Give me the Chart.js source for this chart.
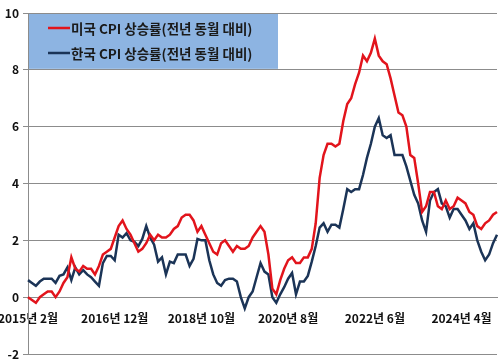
<!DOCTYPE html>
<html>
<head>
<meta charset="utf-8">
<script src="https://cdn.jsdelivr.net/npm/chart.js@4"></script>
<style>
  html, body { margin: 0; padding: 0; background: #fff; }
  #wrap { width: 500px; height: 361px; }
</style>
</head>
<body>
<div id="wrap"><canvas id="myChart"></canvas></div>
<script>
{
  /* Data */
  const startYear = 2015;
  const startMonth = 2;
  const monthCount = 120;
  const tickEvery = 22;

  const seriesNames = ['미국 CPI 상승률(전년 동월 대비)', '한국 CPI 상승률(전년 동월 대비)'];
  const seriesColors = ['#e2141c', '#1b3457'];

  // 2015.2 ~ 2025.1
  const usCpi = [
    0.0, -0.1, -0.2, 0.0, 0.1, 0.2, 0.2, 0.0, 0.2, 0.5, 0.7,
    1.4, 1.0, 0.9, 1.1, 1.0, 1.0, 0.8, 1.1, 1.5, 1.6, 1.7, 2.1,
    2.5, 2.7, 2.4, 2.2, 1.9, 1.6, 1.7, 1.9, 2.2, 2.0, 2.2, 2.1,
    2.1, 2.2, 2.4, 2.5, 2.8, 2.9, 2.9, 2.7, 2.3, 2.5, 2.2, 1.9,
    1.6, 1.5, 1.9, 2.0, 1.8, 1.6, 1.8, 1.7, 1.7, 1.8, 2.1, 2.3,
    2.5, 2.3, 1.5, 0.3, 0.1, 0.6, 1.0, 1.3, 1.4, 1.2, 1.2, 1.4,
    1.4, 1.7, 2.6, 4.2, 5.0, 5.4, 5.4, 5.3, 5.4, 6.2, 6.8, 7.0,
    7.5, 7.9, 8.5, 8.3, 8.6, 9.1, 8.5, 8.3, 8.2, 7.7, 7.1, 6.5,
    6.4, 6.0, 5.0, 4.9, 4.0, 3.0, 3.2, 3.7, 3.7, 3.2, 3.1, 3.4,
    3.1, 3.2, 3.5, 3.4, 3.3, 3.0, 2.9, 2.5, 2.4, 2.6, 2.7, 2.9,
    3.0
  ];
  const krCpi = [
    0.6, 0.5, 0.4, 0.55, 0.65, 0.65, 0.65, 0.5, 0.75, 0.8, 1.05,
    0.6, 1.05, 0.8, 0.95, 0.8, 0.7, 0.55, 0.4, 1.2, 1.45, 1.45, 1.3,
    2.2, 2.1, 2.25, 2.0, 1.95, 1.8, 2.05, 2.5, 2.1, 1.85, 1.25, 1.4,
    0.8, 1.25, 1.2, 1.5, 1.5, 1.5, 1.1, 1.35, 2.05, 2.0, 2.0, 1.3,
    0.8, 0.5, 0.4, 0.6, 0.65, 0.65, 0.55, 0.0, -0.4, 0.0, 0.2, 0.7,
    1.2, 0.9, 0.8, 0.0, -0.2, 0.1, 0.35, 0.65, 0.85, 0.1, 0.55, 0.55,
    0.75, 1.25, 1.8, 2.45, 2.6, 2.3, 2.55, 2.55, 2.45, 3.1, 3.8, 3.7,
    3.8, 3.8, 4.3, 4.9, 5.4, 6.0, 6.3, 5.7, 5.6, 5.7, 5.0, 5.0,
    5.0, 4.6, 4.1, 3.6, 3.3, 2.7, 2.3, 3.4, 3.7, 3.8, 3.3, 3.2,
    2.8, 3.1, 3.1, 2.9, 2.7, 2.4, 2.6, 2.0, 1.6, 1.3, 1.5, 1.9,
    2.2
  ];

  const yMin = -2;
  const yMax = 10;
  const yStep = 2;

  const months = [];
  for (let i = 0; i < monthCount; i++) {
    const m = startMonth - 1 + i;
    months.push((startYear + Math.floor(m / 12)) + '년 ' + (m % 12 + 1) + '월');
  }

  const gridGray = '#8c8c8c';
  const fontFamily = "'Noto Sans CJK KR', 'Noto Sans', sans-serif";

  /* Legend box inside the plot */
  const legendBox = {
    id: 'legendBox',
    beforeDatasetsDraw(chart) {
      const {ctx, chartArea, scales} = chart;
      const top = scales.y.getPixelForValue(yMax);
      const bottom = scales.y.getPixelForValue(yMax - yStep);
      const left = chartArea.left + 1;
      ctx.save();
      ctx.fillStyle = '#8db4e2';
      ctx.fillRect(left, top + 1, 249, bottom - top - 2);
      ctx.font = 'bold 13.5px ' + fontFamily;
      ctx.textBaseline = 'middle';
      chart.data.datasets.forEach((ds, i) => {
        const y = top + 16 + i * 25;
        ctx.strokeStyle = ds.borderColor;
        ctx.lineWidth = 2.5;
        ctx.beginPath();
        ctx.moveTo(left + 19, y - 1);
        ctx.lineTo(left + 41, y - 1);
        ctx.stroke();
        ctx.fillStyle = '#1a1a1a';
        ctx.fillText(ds.label, left + 42, y);
      });
      ctx.restore();
    }
  };

  /* Chart */
  const ctx = document.getElementById('myChart').getContext('2d');
  // eslint-disable-next-line no-undef
  const myChart = new Chart(ctx, {
    type: 'line',
    data: {
      labels: months,
      datasets: [
        {
          label: seriesNames[0],
          data: usCpi,
          borderColor: seriesColors[0],
          backgroundColor: seriesColors[0],
          borderWidth: 2.5,
          pointRadius: 0,
          tension: 0,
        },
        {
          label: seriesNames[1],
          data: krCpi,
          borderColor: seriesColors[1],
          backgroundColor: seriesColors[1],
          borderWidth: 2.5,
          pointRadius: 0,
          tension: 0,
        }
      ]
    },
    options: {
      responsive: true,
      maintainAspectRatio: false,
      animation: false,
      layout: { padding: { top: 13, bottom: 7, left: 0, right: 3 } },
      plugins: {
        legend: { display: false },
        tooltip: { enabled: false },
      },
      scales: {
        x: {
          position: { y: 0 },
          offset: false,
          grid: {
            drawOnChartArea: false,
            tickLength: 5,
            color: (c) => (c.index % tickEvery === 0 ? gridGray : 'rgba(0,0,0,0)'),
          },
          border: { color: gridGray, width: 1 },
          ticks: {
            autoSkip: false,
            maxRotation: 0,
            padding: 9,
            color: '#111',
            font: { family: fontFamily, size: 12, weight: 'bold' },
            callback: (v, i) => (i % tickEvery === 0 ? months[i] : null),
          },
          afterFit(s) {
            s.paddingLeft = 0;
            s.paddingRight = 0;
          },
        },
        y: {
          min: yMin,
          max: yMax,
          ticks: {
            stepSize: yStep,
            padding: 4,
            color: '#111',
            font: { family: fontFamily, size: 12, weight: 'bold' },
          },
          grid: { color: gridGray, lineWidth: 1, tickLength: 5 },
          border: { color: gridGray, width: 1 },
          afterFit(s) {
            s.width = 28;
            s.paddingTop = 0;
            s.paddingBottom = 0;
          },
        }
      }
    },
    plugins: [legendBox],
  });
}
</script>
</body>
</html>
